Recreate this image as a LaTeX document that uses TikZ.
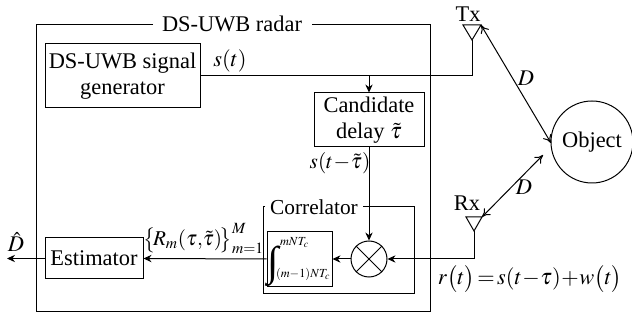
\documentclass[tikz,border=0pt]{standalone}
\usepackage{amsmath}
\usepackage{mathptmx}
\usepackage{fontspec}
\setmainfont{Liberation Serif}
\usepackage{tikz}
\usetikzlibrary{arrows.meta}

\tikzset{
  blockbox/.style={draw,rectangle,inner sep=0pt,align=center,font=\fontsize{16.8}{20}\selectfont},
  blocktext/.style={inner sep=0.75pt,align=center,font=\fontsize{16.8}{20}\selectfont},
  sigline/.style={line width=0.75pt,-{Stealth[length=6pt,width=5.5pt]}},
  rangeline/.style={line width=0.75pt,{To[length=6pt,width=7pt]}-{To[length=6pt,width=7pt]}}
}

\begin{document}
\begin{tikzpicture}[x=0.75pt,y=0.75pt,yscale=-1,xscale=1,line width=0.75pt]
                  \useasboundingbox (0,0) rectangle (632,320);

                  %Outer frame
                  \node [blocktext] (radarlabel) at (232,24) {DS-UWB radar};
                  \draw (153,25) -- (36,25) -- (36,312) -- (430,312) -- (430,25) -- (312,25);

                  %Blocks
                  \node [blockbox,minimum width=116.25pt,minimum height=48pt] (generator) at (122.5,76) {DS-UWB signal\\generator};
                  \node [blockbox,minimum width=82.5pt,minimum height=40.5pt] (candidate) at (369,120) {Candidate\\delay $\tilde{\tau}$};
                  \node [blockbox,minimum width=73.5pt,minimum height=30.75pt] (estimator) at (94,258.5) {Estimator};
                  \node [draw,circle,inner sep=0pt,minimum size=27pt] (mixer) at (369,259) {};
                  \draw (mixer.north west) -- (mixer.south east) (mixer.north east) -- (mixer.south west);
                  \node [draw,circle,inner sep=0pt,minimum size=61.5pt,font=\fontsize{16.8}{20}\selectfont] (object) at (592,142) {Object};

                  %Correlator
                  \node [blocktext,font=\fontsize{16}{20}\selectfont] (corrlabel) at (314,207) {Correlator};
                  \draw (265,207) -- (263,207) -- (263,294) -- (414,294) -- (414,207) -- (363,207);
                  \node [draw,rectangle,inner sep=0pt,minimum width=48.75pt,minimum height=39pt,font=\fontsize{12.5}{15}\selectfont] (integrator) at (299.5,259) {\hspace{-1pt}\raisebox{-10.5pt}{\fontsize{31}{31}\selectfont ∫}\hspace{-2pt}$\setlength{\arraycolsep}{0pt}\begin{array}{l}\scriptstyle \hspace{3pt}mNT_c\\[9pt]\scriptstyle (m-1)NT_c\end{array}$\hspace{-1pt}};

                  %Antennas
                  \coordinate (txleft) at (463,25);
                  \coordinate (txright) at (481,25);
                  \coordinate (txapex) at (472,40);
                  \coordinate (rxleft) at (466,217);
                  \coordinate (rxright) at (482,217);
                  \coordinate (rxapex) at (474,231);
                  \draw (txleft) -- (txright) -- (txapex) -- cycle;
                  \draw (rxleft) -- (rxright) -- (rxapex) -- cycle;

                  %Connectors
                  \coordinate (branch) at (369,76);
                  \coordinate (objtx) at (551,143);
                  \coordinate (objrx) at (543,155);
                  \draw (generator.east |- branch) -- (branch -| txapex) -- (txapex);
                  \draw [sigline] (branch) -- (candidate.north);
                  \draw [sigline] (candidate.south) -- (mixer.north);
                  \draw [sigline] (rxapex) -- (rxapex |- mixer) -- (mixer.east);
                  \draw [sigline] (mixer.west) -- (integrator.east);
                  \draw [sigline] (integrator.west) -- (estimator.east);
                  \coordinate (dhatend) at (7,258.5);
                  \draw [sigline] (estimator.west) -- (dhatend);
                  \draw [rangeline] (txright) -- (objtx);
                  \draw [rangeline] (rxright) -- (objrx);

                  % Text Node
                  \node [blocktext] (txlabel) at (468,14) {Tx};
                  \node [blocktext] (rxlabel) at (467,203) {Rx};
                  \node [blocktext] (dtop) at (526,78) {$D$};
                  \node [blocktext] (dbottom) at (524,187) {$D$};
                  \node [blocktext] (slabel) at (230,61) {$s(t)$};
                  \node [blocktext,font=\fontsize{16}{20}\selectfont] (sdelay) at (340,163) {$s(t\!-\!\tilde{\tau})$};
                  \node [blocktext] (dhat) at (16,242) {$\hat{D}$};
                  \node [blocktext,font=\fontsize{15.8}{20}\selectfont] (rmlabel) at (203.5,239) {$\bigl\{\!R_m(\tau,\!\tilde{\tau})\!\bigr\}_{m=1}^{M}$};
                  \node [blocktext] (rlabel) at (530,279) {$r\bigl(t\bigr)\!=\!s(t\!-\!\tau)\!+\!w\bigl(t\bigr)$};

\end{tikzpicture}
\end{document}
